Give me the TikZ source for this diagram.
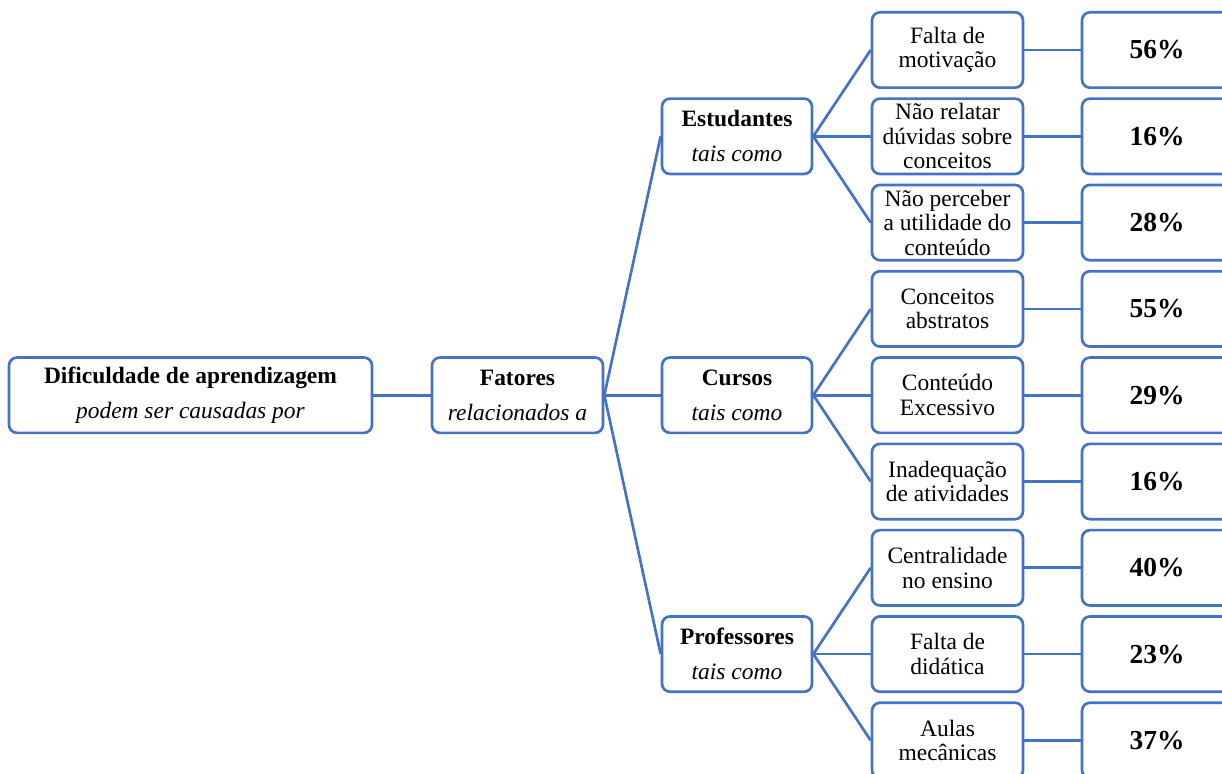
\documentclass[tikz,border=0pt]{standalone}
\usepackage{fontspec}
\setmainfont{Liberation Serif}
\definecolor{lineblue}{HTML}{4472C4}
\begin{document}
\begin{tikzpicture}[x=0.75pt,y=-0.75pt,
  box/.style={draw=lineblue, line width=2pt, rounded corners=6pt, fill=white, inner sep=0pt, align=center, minimum height=56.5pt},
  leaf/.style={box, minimum width=113.25pt, font=\fontsize{17.6pt}{18.4pt}\selectfont},
  pct/.style={box, minimum width=112.5pt, font=\fontsize{20.6pt}{24pt}\selectfont\bfseries},
  mid/.style={box, minimum width=112.5pt, font=\fontsize{17.6pt}{26pt}\selectfont},
  conn/.style={draw=lineblue, line width=2pt}]
\useasboundingbox (0,0) rectangle (1222,774);
\clip (0,0) rectangle (1222,774);

% left nodes
\node[box, minimum width=272.25pt, font=\fontsize{17.6pt}{26pt}\selectfont] (dif) at (190.5,395.2) {\textbf{Dificuldade de aprendizagem}\\\textit{podem ser causadas por}};
\node[box, minimum width=128.25pt, font=\fontsize{17.6pt}{26pt}\selectfont] (fat) at (517.5,395.2) {\textbf{Fatores}\\\textit{relacionados a}};

% middle nodes
\node[mid] (est) at (737,136.3) {\textbf{Estudantes}\\\textit{tais como}};
\node[mid] (cur) at (737,395.2) {\textbf{Cursos}\\\textit{tais como}};
\node[mid] (pro) at (737,654.1) {\textbf{Professores}\\\textit{tais como}};

% leaves
\node[leaf] (l1) at (947.5,50)    {Falta de\\motivação};
\node[leaf] (l2) at (947.5,136.3) {Não relatar\\dúvidas sobre\\conceitos};
\node[leaf] (l3) at (947.5,222.6) {Não perceber\\a utilidade do\\conteúdo};
\node[leaf] (l4) at (947.5,308.9) {Conceitos\\abstratos};
\node[leaf] (l5) at (947.5,395.2) {Conteúdo\\Excessivo};
\node[leaf] (l6) at (947.5,481.5) {Inadequação\\de atividades};
\node[leaf] (l7) at (947.5,567.8) {Centralidade\\no ensino};
\node[leaf] (l8) at (947.5,654.1) {Falta de\\didática};
\node[leaf] (l9) at (947.5,740.4) {Aulas\\mecânicas};

% percentages
\node[pct] (p1) at (1157,50)    {56\%};
\node[pct] (p2) at (1157,136.3) {16\%};
\node[pct] (p3) at (1157,222.6) {28\%};
\node[pct] (p4) at (1157,308.9) {55\%};
\node[pct] (p5) at (1157,395.2) {29\%};
\node[pct] (p6) at (1157,481.5) {16\%};
\node[pct] (p7) at (1157,567.8) {40\%};
\node[pct] (p8) at (1157,654.1) {23\%};
\node[pct] (p9) at (1157,740.4) {37\%};

% connectors
\draw[conn] (dif.east) -- (fat.west);
\draw[conn] (fat.east) -- (est.west);
\draw[conn] (fat.east) -- (cur.west);
\draw[conn] (fat.east) -- (pro.west);
\draw[conn] (est.east) -- (l1.west);
\draw[conn] (est.east) -- (l2.west);
\draw[conn] (est.east) -- (l3.west);
\draw[conn] (cur.east) -- (l4.west);
\draw[conn] (cur.east) -- (l5.west);
\draw[conn] (cur.east) -- (l6.west);
\draw[conn] (pro.east) -- (l7.west);
\draw[conn] (pro.east) -- (l8.west);
\draw[conn] (pro.east) -- (l9.west);
\foreach \i in {1,...,9} {\draw[conn] (l\i.east) -- (p\i.west);}
\end{tikzpicture}
\end{document}
